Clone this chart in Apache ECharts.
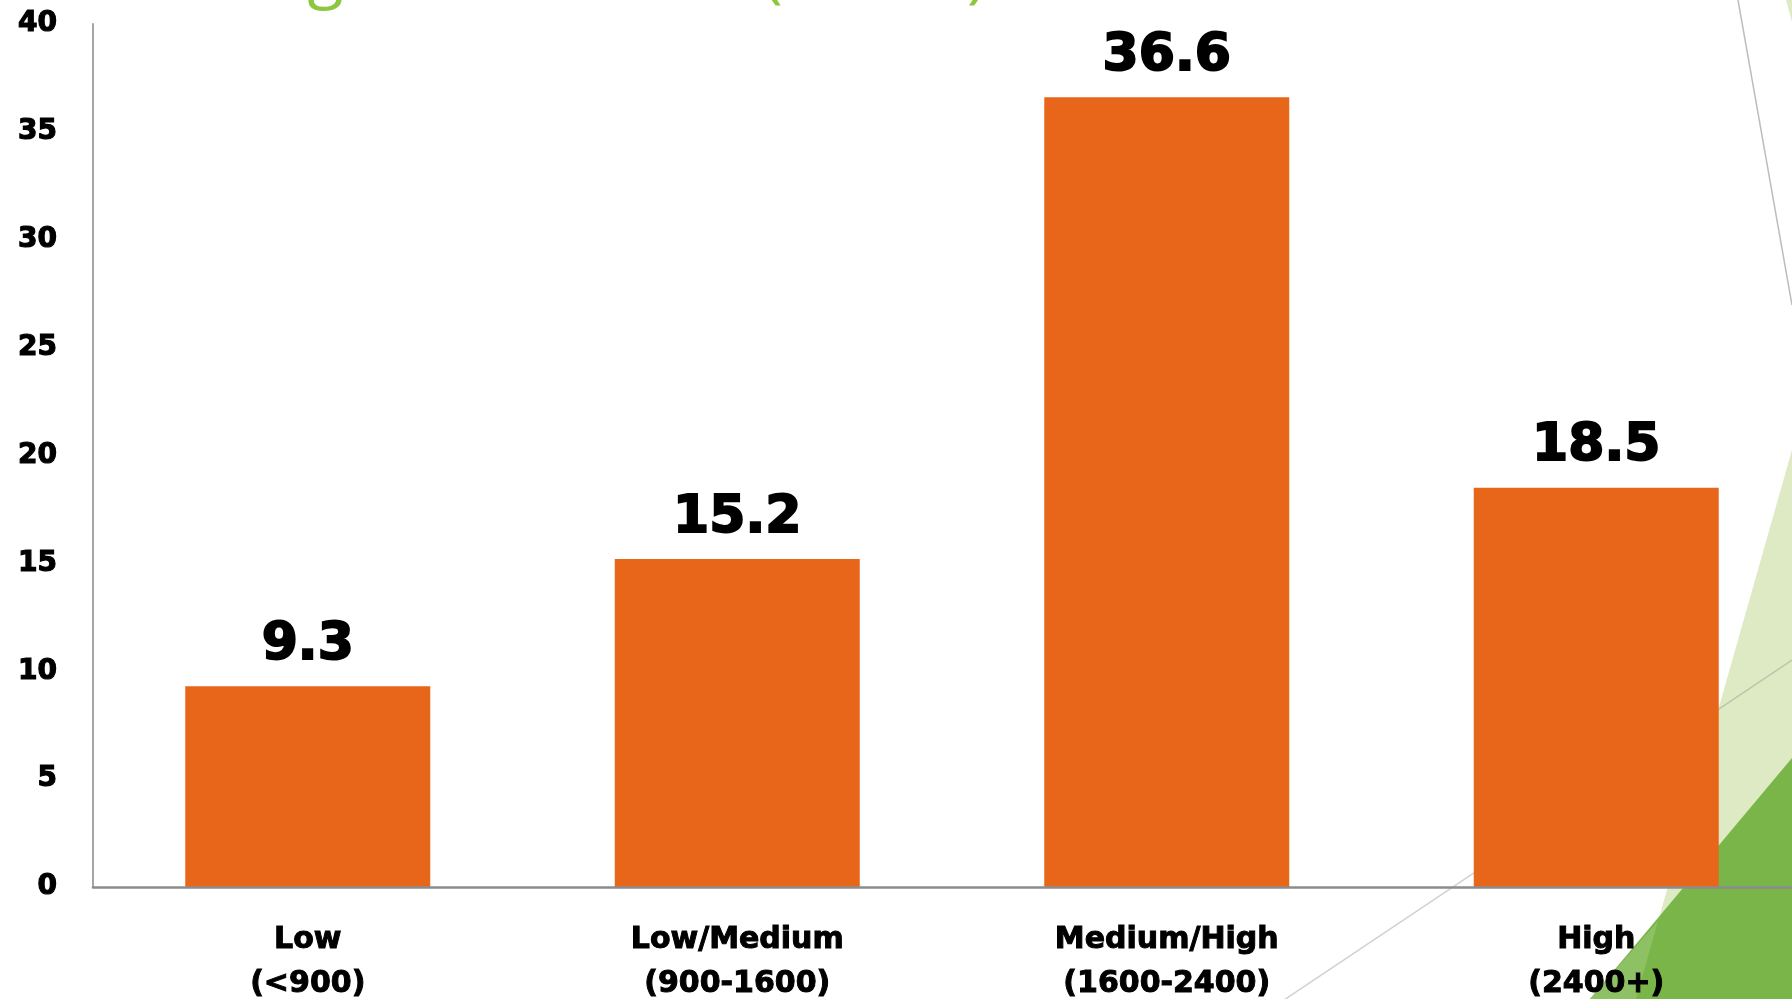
<!DOCTYPE html>
<html>
<head>
<meta charset="utf-8">
<script src="https://cdn.jsdelivr.net/npm/echarts@6/dist/echarts.min.js"></script>
<style>
html,body{margin:0;padding:0;background:#fff;}
#chart{width:1792px;height:999px;}
</style>
</head>
<body>
<div id="chart"></div>
<script>
const categories = ['Low\n(<900)', 'Low/Medium\n(900-1600)', 'Medium/High\n(1600-2400)', 'High\n(2400+)'];
const values = [9.3, 15.2, 36.6, 18.5];
const yTicks = { min: 0, max: 40, interval: 5 };
const titleText = 'Average Test Scores (Totals)';

const chart = echarts.init(document.getElementById('chart'), null, { renderer: 'canvas' });
const FONT = '"DejaVu Sans", "Liberation Sans", Arial, sans-serif';

chart.setOption({
  animation: false,
  backgroundColor: '#ffffff',
  graphic: [
    { type: 'polygon', z: -10, silent: true,
      shape: { points: [[1792, 450], [1792, 999], [1636, 999]] },
      style: { fill: '#DDEAC4' } },
    { type: 'polygon', z: -9, silent: true,
      shape: { points: [[1792, 758], [1792, 999], [1590, 999]] },
      style: { fill: '#7AB549' } },
    { type: 'polygon', z: -8, silent: true,
      shape: { points: [[1658, 921], [1636, 999], [1590, 999]] },
      style: { fill: '#8EC064' } },
    { type: 'polygon', z: -10, silent: true,
      shape: { points: [[1786, 0], [1792, 0], [1792, 22]] },
      style: { fill: '#DDEAC4' } },
    { type: 'line', z: -7, silent: true,
      shape: { x1: 1738, y1: 0, x2: 1792, y2: 305 },
      style: { stroke: '#BDBDBD', lineWidth: 1.5 } },
    { type: 'line', z: -7, silent: true,
      shape: { x1: 1792, y1: 660, x2: 1278, y2: 1004 },
      style: { stroke: 'rgba(140,140,140,0.4)', lineWidth: 1.5 } },
    { type: 'text', z: -6, silent: true, left: 132, top: -57,
      style: { text: titleText, fill: '#8DC63F', font: '66px "Open Sans", Lato, sans-serif' } }
  ],
  grid: { left: 93, top: 24, width: 1718, bottom: 112, containLabel: false, outerBoundsMode: 'none' },
  xAxis: {
    type: 'category',
    data: categories,
    axisLine: { show: true, lineStyle: { color: '#8C8C8C', width: 2.5 } },
    axisTick: { show: false },
    axisLabel: {
      color: '#000', fontFamily: FONT, fontWeight: 'bold', fontSize: 30,
      lineHeight: 44, margin: 31, interval: 0,
      textBorderColor: '#000', textBorderWidth: 1
    },
    splitLine: { show: false },
    z: 5
  },
  yAxis: {
    type: 'value',
    min: yTicks.min, max: yTicks.max, interval: yTicks.interval,
    axisLine: { show: true, lineStyle: { color: '#A6A6A6', width: 2 } },
    axisTick: { show: false },
    splitLine: { show: false },
    axisLabel: {
      color: '#000', fontFamily: FONT, fontWeight: 'bold', fontSize: 28, margin: 36,
      textBorderColor: '#000', textBorderWidth: 1.2
    }
  },
  series: [{
    type: 'bar',
    data: values,
    barWidth: 245,
    itemStyle: { color: '#E8661A' },
    label: {
      show: true, position: 'top', distance: 15,
      color: '#000', fontFamily: FONT, fontWeight: 'bold', fontSize: 52,
      textBorderColor: '#000', textBorderWidth: 2,
      formatter: p => p.value.toFixed(1)
    },
    z: 3
  }]
});
</script>
</body>
</html>
